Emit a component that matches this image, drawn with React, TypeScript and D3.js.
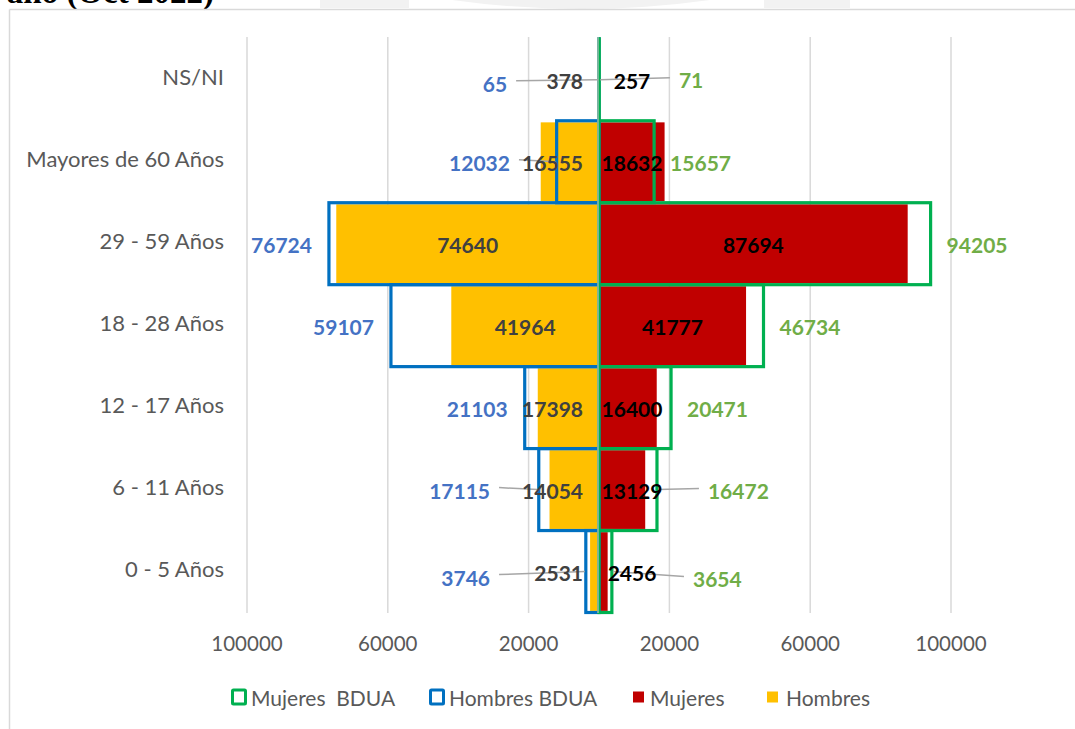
import React from "react";
import * as d3 from "d3";

const categories = [
  "NS/NI",
  "Mayores de 60 Años",
  "29 - 59 Años",
  "18 - 28 Años",
  "12 - 17 Años",
  "6 - 11 Años",
  "0 - 5 Años",
];
const hombres = [378, 16555, 74640, 41964, 17398, 14054, 2531];
const mujeres = [257, 18632, 87694, 41777, 16400, 13129, 2456];
const hombresBDUA = [65, 12032, 76724, 59107, 21103, 17115, 3746];
const mujeresBDUA = [71, 15657, 94205, 46734, 20471, 16472, 3654];
const xTicks = [-100000, -60000, -20000, 20000, 60000, 100000];
const tickLabels = ["100000", "60000", "20000", "20000", "60000", "100000"];

// label anchors (value space) for labels moved away from their bars (with leader lines)
const hombresBDUALabelAt: (number | null)[] = [26100, 25300, null, null, null, 30950, 30950];
const mujeresBDUALabelAt: (number | null)[] = [22700, null, null, null, null, 30950, 26700];
const hombresBDUALabelDy = [3, 0, 0, 0, 0, 0, 5];
const mujeresBDUALabelDy = [-1, 0, 0, 0, 0, 0, 6];

const legendItems = [
  { label: "Mujeres  BDUA", kind: "outline", color: "#00B050" },
  { label: "Hombres BDUA", kind: "outline", color: "#0070C0" },
  { label: "Mujeres", kind: "fill", color: "#C00000" },
  { label: "Hombres", kind: "fill", color: "#FFC000" },
];

const FONT = "Lato, 'Liberation Sans', sans-serif";

export default function App() {
  const W = 1075;
  const H = 729;
  const x = d3.scaleLinear().domain([-100000, 100000]).range([247, 951]);
  const y = d3.scaleBand<string>().domain(categories).range([38.8, 612.5]).padding(0);
  const bw = y.bandwidth();
  const x0 = x(0);
  const inset = 1.6;
  const digitW = 12.2;

  const legendX = [231, 429, 633, 767];
  const legendTextX = [251, 449, 650, 786];
  const legendY = 697;

  return (
    <svg
      width={W}
      height={H}
      style={{ position: "absolute", left: 0, top: 0, background: "#fff" }}
    >
      {/* cut-off header band */}
      <rect x={320} y={0} width={89} height={8} fill="#F2F2F2" />
      <path d="M452,0 Q581,18 710,0 Z" fill="#F2F2F2" />
      <rect x={764} y={0} width={86} height={8} fill="#F2F2F2" />
      <text
        x={214}
        y={3}
        textAnchor="end"
        fontFamily="'Liberation Serif', 'Times New Roman', serif"
        fontWeight="bold"
        fontSize={33}
        fill="#000"
      >
        año (Oct 2022)
      </text>

      {/* chart border */}
      <line x1={9.5} x2={W} y1={9.5} y2={9.5} stroke="#D9D9D9" strokeWidth={1.5} />
      <line x1={9.5} x2={9.5} y1={9.5} y2={H} stroke="#D9D9D9" strokeWidth={1.5} />

      {/* gridlines */}
      {xTicks.map((t) => (
        <line
          key={"g" + t}
          x1={x(t)}
          x2={x(t)}
          y1={37}
          y2={613}
          stroke="#D9D9D9"
          strokeWidth={1.5}
        />
      ))}

      {/* filled bars */}
      {categories.map((c, i) => (
        <g key={"f" + c}>
          <rect
            x={x(-hombres[i])}
            y={(y(c) as number) + inset}
            width={x0 - x(-hombres[i])}
            height={bw - 2 * inset}
            fill="#FFC000"
          />
          <rect
            x={x0}
            y={(y(c) as number) + inset}
            width={x(mujeres[i]) - x0}
            height={bw - 2 * inset}
            fill="#C00000"
          />
        </g>
      ))}

      {/* BDUA outlines */}
      {categories.map((c, i) => (
        <g key={"o" + c}>
          <rect
            x={x(-hombresBDUA[i])}
            y={y(c) as number}
            width={x0 - x(-hombresBDUA[i])}
            height={bw}
            fill="none"
            stroke="#0070C0"
            strokeWidth={3.2}
          />
          <rect
            x={x0}
            y={y(c) as number}
            width={x(mujeresBDUA[i]) - x0}
            height={bw}
            fill="none"
            stroke="#00B050"
            strokeWidth={3.2}
          />
        </g>
      ))}

      {/* vertical axis line */}
      <line x1={x0 - 1} x2={x0 - 1} y1={37} y2={613} stroke="#BFBFBF" strokeWidth={1.2} />

      {/* category labels */}
      {categories.map((c) => (
        <text
          key={"c" + c}
          x={224}
          y={(y(c) as number) + bw / 2 - 3}
          textAnchor="end"
          dominantBaseline="central"
          fontFamily={FONT}
          fontSize={22}
          fill="#595959"
        >
          {c}
        </text>
      ))}

      {/* tick labels */}
      {xTicks.map((t, i) => (
        <text
          key={"t" + t}
          x={x(t)}
          y={643}
          textAnchor="middle"
          dominantBaseline="central"
          fontFamily={FONT}
          fontSize={20.5}
          fill="#595959"
        >
          {tickLabels[i]}
        </text>
      ))}

      {/* leader lines */}
      {categories.map((c, i) => {
        const cy = (y(c) as number) + bw / 2;
        const out: JSX.Element[] = [];
        const hb = hombresBDUALabelAt[i];
        if (hb !== null) {
          out.push(
            <line
              key={"lh" + c}
              x1={x(-hb) + 9}
              y1={cy + hombresBDUALabelDy[i] - 2}
              x2={x(-hombresBDUA[i]) - 1}
              y2={cy}
              stroke="#A6A6A6"
              strokeWidth={1.5}
            />
          );
        }
        const mb = mujeresBDUALabelAt[i];
        if (mb !== null) {
          out.push(
            <line
              key={"lm" + c}
              x1={x(mb) - 9}
              y1={cy + mujeresBDUALabelDy[i] - 1}
              x2={x(mujeresBDUA[i]) + 1}
              y2={cy}
              stroke="#A6A6A6"
              strokeWidth={1.5}
            />
          );
        }
        return <g key={"l" + c}>{out}</g>;
      })}

      {/* data labels */}
      {categories.map((c, i) => {
        const cy = (y(c) as number) + bw / 2;
        const hText = String(hombres[i]);
        const hw = hText.length * digitW;
        const hCenter = (x(-hombres[i]) + x0) / 2;
        const hLimit = x0 - 16;
        const hEndMode = hCenter + hw / 2 > hLimit;
        const mCenter = Math.max((x(mujeres[i]) + x0) / 2, x0 + 33);
        const hb = hombresBDUALabelAt[i];
        const mb = mujeresBDUALabelAt[i];
        const hbX = hb !== null ? x(-hb) : x(-hombresBDUA[i]) - 17;
        const mbX = mb !== null ? x(mb) : x(mujeresBDUA[i]) + 16;
        const common = {
          fontFamily: FONT,
          fontWeight: "bold" as const,
          fontSize: 21,
          dominantBaseline: "central" as const,
        };
        return (
          <g key={"d" + c}>
            <text
              {...common}
              x={hEndMode ? hLimit : hCenter}
              y={cy + 1}
              textAnchor={hEndMode ? "end" : "middle"}
              fill="#404040"
            >
              {hText}
            </text>
            <text {...common} x={mCenter} y={cy + 1} textAnchor="middle" fill="#000">
              {mujeres[i]}
            </text>
            <text
              {...common}
              x={hbX}
              y={cy + 1 + hombresBDUALabelDy[i]}
              textAnchor="end"
              fill="#4472C4"
            >
              {hombresBDUA[i]}
            </text>
            <text
              {...common}
              x={mbX}
              y={cy + 1 + mujeresBDUALabelDy[i]}
              textAnchor="start"
              fill="#70AD47"
            >
              {mujeresBDUA[i]}
            </text>
          </g>
        );
      })}

      {/* legend */}
      {legendItems.map((it, i) => (
        <g key={"lg" + it.label}>
          {it.kind === "outline" ? (
            <rect
              x={legendX[i] + 1.5}
              y={legendY - 7}
              width={13}
              height={14}
              fill="#fff"
              stroke={it.color}
              strokeWidth={3}
              rx={1}
            />
          ) : (
            <rect x={legendX[i]} y={legendY - 5.5} width={11} height={11} fill={it.color} />
          )}
          <text
            x={legendTextX[i]}
            y={legendY}
            dominantBaseline="central"
            fontFamily={FONT}
            fontSize={21}
            fill="#595959"
            style={{ whiteSpace: "pre" }}
          >
            {it.label}
          </text>
        </g>
      ))}
    </svg>
  );
}
